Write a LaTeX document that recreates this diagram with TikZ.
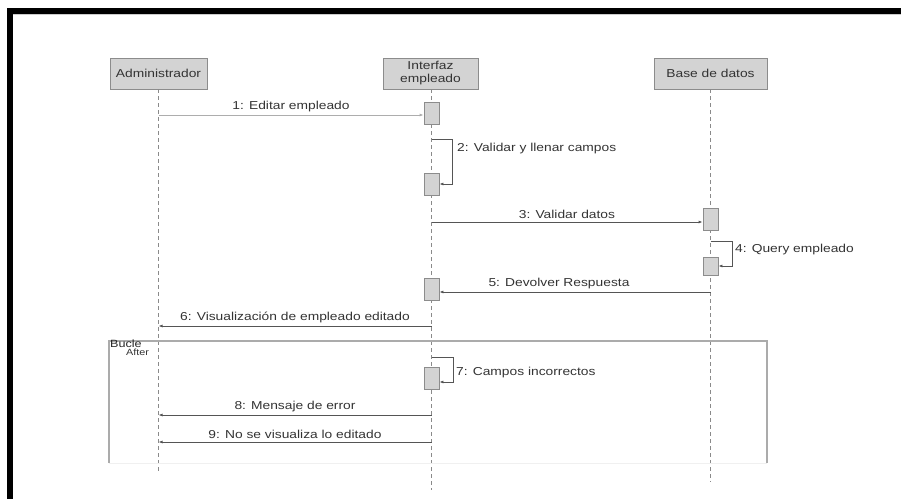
\documentclass[tikz,border=0pt]{standalone}
\usepackage{fontspec}
\setmainfont[FakeStretch=1.2]{Liberation Sans}
\usetikzlibrary{arrows.meta}
\definecolor{boxfill}{HTML}{D3D3D3}
\definecolor{boxedge}{HTML}{8C8C8C}
\definecolor{ink}{HTML}{333333}
\definecolor{wire}{HTML}{555555}
\definecolor{lifegray}{HTML}{8A8A8A}
\definecolor{framegray}{HTML}{ABABAB}
\tikzset{
  x=1pt, y=-1pt,
  actor/.style={draw=boxedge, fill=boxfill, line width=0.8pt, minimum height=31pt,
    inner sep=0pt, text=ink, font=\fontsize{11.5}{13}\selectfont, align=center},
  actbar/.style={draw=boxedge, fill=boxfill, line width=0.8pt, minimum width=15pt,
    inner sep=0pt},
  lifeline/.style={draw=lifegray, line width=0.8pt, dash pattern=on 4pt off 3pt},
  msg/.style={draw=wire, line width=0.8pt, -{Latex[length=4pt,width=3pt]}},
  faintmsg/.style={msg, draw=lifegray!70},
  lbl/.style={text=ink, font=\fontsize{11.5}{13}\selectfont, inner sep=0pt},
}
\begin{document}
\begin{tikzpicture}
\useasboundingbox (0,0) rectangle (901,499);

% thick black border along the top and left
\fill[black] (7,8) rectangle (901,14);
\fill[black] (7,8) rectangle (13,499);
\draw[gray!40, line width=0.8pt] (13,14.6) -- (901,14.6);

% participants
\node[actor, minimum width=97pt]  (adm) at (158.5,73.5) {Administrador};
\node[actor, minimum width=95pt]  (ifz) at (430.5,73.5) {Interfaz\\empleado};
\node[actor, minimum width=113pt] (bdd) at (710.5,73.5) {Base de datos};

% lifeline ends
\coordinate (admEnd) at (158.5,472);
\coordinate (ifzEnd) at (431.5,490);
\coordinate (bddEnd) at (710.5,482);
\draw[lifeline] (adm.south -| admEnd) -- (admEnd);
\draw[lifeline] (ifz.south -| ifzEnd) -- (ifzEnd);
\draw[lifeline] (bdd.south -| bddEnd) -- (bddEnd);

% combined fragment
\coordinate (frTL) at (109,341);
\coordinate (frBR) at (767,463);
\draw[gray!12, line width=0.8pt] (frTL |- frBR) -- (frBR);
\draw[framegray, line width=1.3pt] (frTL |- frBR) -- (frTL) -- (frBR |- frTL) -- (frBR);
\node[text=black!85, font=\fontsize{10.5}{10.5}\selectfont, inner sep=0pt, anchor=west] (fkind) at (110,344) {Bucle};
\node[text=ink, font=\fontsize{9}{9}\selectfont, inner sep=0pt] (fcond) at (137.5,352.5) {After};

% activation bars
\node[actbar, minimum height=22pt] (a1) at (431.5,113) {};
\node[actbar, minimum height=22pt] (a2) at (431.5,184) {};
\node[actbar, minimum height=22pt] (a3) at (710.5,219) {};
\node[actbar, minimum height=18pt] (a4) at (710.5,266) {};
\node[actbar, minimum height=22pt] (a5) at (431.5,289) {};
\node[actbar, minimum height=22pt] (a7) at (431.5,378) {};

% message anchor points on the lifelines
\coordinate (m1) at (158.5,115);
\coordinate (m2) at (431.5,139);
\coordinate (m3) at (431.5,222);
\coordinate (m4) at (710.5,241);
\coordinate (m5) at (710.5,292);
\coordinate (m6) at (431.5,326);
\coordinate (m7) at (431.5,357);
\coordinate (m8) at (431.5,415);
\coordinate (m9) at (431.5,442);

% messages
\draw[faintmsg] (m1) -- (m1 -| a1.west);
\node[lbl] (l1) at (291,107) {1: Editar empleado};

\draw[msg] (m2) -- (452,139) -- (452,184) -- (a2.east |- 0,184);
\node[lbl, anchor=west] (l2) at (457,149) {2: Validar y llenar campos};

\draw[msg] (m3) -- (m3 -| a3.west);
\node[lbl] (l3) at (567,214) {3: Validar datos};

\draw[msg] (m4) -- (732,241) -- (732,266) -- (a4.east |- 0,266);
\node[lbl, anchor=west] (l4) at (735,250) {4: Query empleado};

\draw[msg] (m5) -- (m5 -| a5.east);
\node[lbl] (l5) at (559,284) {5: Devolver Respuesta};

\draw[msg] (m6) -- (m6 -| admEnd);
\node[lbl] (l6) at (295,317) {6: Visualización de empleado editado};

\draw[msg] (m7) -- (453,357) -- (453,382) -- (a7.east |- 0,382);
\node[lbl, anchor=west] (l7) at (456,373) {7: Campos incorrectos};

\draw[msg] (m8) -- (m8 -| admEnd);
\node[lbl] (l8) at (295,407) {8: Mensaje de error};

\draw[msg] (m9) -- (m9 -| admEnd);
\node[lbl] (l9) at (295,434) {9: No se visualiza lo editado};
\end{tikzpicture}
\end{document}
